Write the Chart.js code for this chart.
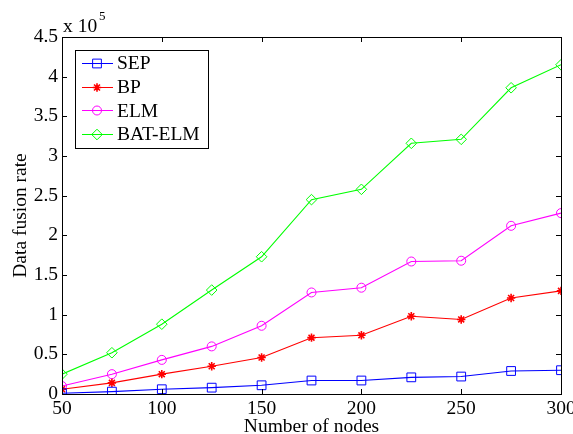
<!DOCTYPE html>
<html>
<head>
<meta charset="utf-8">
<script src="https://cdn.jsdelivr.net/npm/chart.js@4.4.1/dist/chart.umd.min.js"></script>
<style>
  html, body { margin: 0; padding: 0; background: #fff; }
  #wrap { width: 573px; height: 434px; }
</style>
</head>
<body>
<div id="wrap"><canvas id="fusion"></canvas></div>
<script>
// node counts and fusion rates (in units of 1e5)
let nodes = [50, 75, 100, 125, 150, 175, 200, 225, 250, 275, 300]
let sepRate = [0.01, 0.03, 0.06, 0.08, 0.11, 0.17, 0.17, 0.21, 0.22, 0.29, 0.30]
let bpRate = [0.06, 0.14, 0.25, 0.35, 0.46, 0.71, 0.74, 0.98, 0.94, 1.21, 1.30]
let elmRate = [0.10, 0.25, 0.43, 0.60, 0.86, 1.28, 1.34, 1.67, 1.68, 2.12, 2.28]
let batRate = [0.25, 0.52, 0.88, 1.31, 1.73, 2.45, 2.58, 3.16, 3.21, 3.86, 4.15]
let xTicks = [50, 100, 150, 200, 250, 300]
let yTicks = [0, 0.5, 1, 1.5, 2, 2.5, 3, 3.5, 4, 4.5]

const serif = '"Liberation Serif", "Times New Roman", serif'
const fsize = 19.5

const series = (label, vals, color, marker, r) => ({
  label: label,
  data: nodes.map((n, i) => ({ x: n, y: vals[i] })),
  borderColor: color,
  backgroundColor: color,
  borderWidth: 1.1,
  pointStyle: marker,
  pointRadius: r,
  pointBorderWidth: marker == 'star' ? 1.6 : 1,
  pointBackgroundColor: 'rgba(0,0,0,0)',
  pointBorderColor: color,
  tension: 0
})

// matlab-style box, inward ticks, exponent note and legend
const boxPlugin = {
  id: 'box',
  afterDraw(chart) {
    let ctx = chart.ctx
    let a = chart.chartArea
    let xs = chart.scales.x
    let ys = chart.scales.y
    ctx.save()
    ctx.strokeStyle = '#000'
    ctx.lineWidth = 1
    ctx.strokeRect(a.left + 0.5, a.top + 0.5, a.right - a.left, a.bottom - a.top)
    ctx.beginPath()
    xTicks.forEach(t => {
      let px = Math.round(xs.getPixelForValue(t)) + 0.5
      ctx.moveTo(px, a.bottom); ctx.lineTo(px, a.bottom - 5)
      ctx.moveTo(px, a.top); ctx.lineTo(px, a.top + 5)
    })
    yTicks.forEach(t => {
      let py = Math.round(ys.getPixelForValue(t)) + 0.5
      ctx.moveTo(a.left, py); ctx.lineTo(a.left + 5, py)
      ctx.moveTo(a.right, py); ctx.lineTo(a.right - 5, py)
    })
    ctx.stroke()

    // exponent label
    ctx.fillStyle = '#000'
    ctx.font = fsize + 'px ' + serif
    ctx.textBaseline = 'alphabetic'
    ctx.fillText('x 10', a.left + 1, a.top - 5)
    ctx.font = '13px ' + serif
    ctx.fillText('5', a.left + 37, a.top - 17)

    // legend
    let lx = 75, ly = 50, lw = 133, lh = 98
    ctx.fillStyle = '#fff'
    ctx.fillRect(lx, ly, lw, lh)
    ctx.strokeStyle = '#000'
    ctx.strokeRect(lx + 0.5, ly + 0.5, lw, lh)
    chart.data.datasets.forEach((ds, i) => {
      let cy = ly + 13 + i * 23.7
      ctx.strokeStyle = ds.borderColor
      ctx.fillStyle = 'rgba(0,0,0,0)'
      ctx.lineWidth = 1
      ctx.beginPath()
      ctx.moveTo(lx + 7, Math.round(cy) + 0.5); ctx.lineTo(lx + 38, Math.round(cy) + 0.5)
      ctx.stroke()
      ctx.lineWidth = ds.pointBorderWidth
      Chart.helpers.drawPoint(ctx, {
        pointStyle: ds.pointStyle, radius: ds.pointRadius, borderWidth: ds.pointBorderWidth, rotation: 0
      }, lx + 22, Math.round(cy) + 0.5)
      ctx.fillStyle = '#000'
      ctx.font = fsize + 'px ' + serif
      ctx.textBaseline = 'middle'
      ctx.fillText(ds.label, lx + 42, cy + 1)
    })
    ctx.restore()
  }
}

new Chart('fusion', {
  type: 'line',
  data: {
    datasets: [
      series('SEP', sepRate, '#0000ff', 'rect', 6.2),
      series('BP', bpRate, '#ff0000', 'star', 4.2),
      series('ELM', elmRate, '#ff00ff', 'circle', 4.5),
      series('BAT-ELM', batRate, '#00ff00', 'rectRot', 5.3)
    ]
  },
  options: {
    responsive: true,
    maintainAspectRatio: false,
    animation: false,
    layout: { padding: { top: 37, right: 12, left: 0, bottom: 0 } },
    plugins: { legend: { display: false }, tooltip: { enabled: false } },
    scales: {
      x: {
        type: 'linear',
        min: 50,
        max: 300,
        afterBuildTicks: s => { s.ticks = xTicks.map(v => ({ value: v })) },
        afterFit: s => { s.height = 40; s.paddingRight = 0; s.paddingLeft = 0 },
        grid: { display: false, drawTicks: false },
        border: { display: false },
        ticks: { color: '#000', font: { family: serif, size: fsize }, padding: 3, maxRotation: 0, callback: v => String(v) },
        title: { display: true, text: 'Number of nodes', color: '#000', font: { family: serif, size: fsize }, padding: { top: 0, bottom: -5 } }
      },
      y: {
        min: 0,
        max: 4.5,
        afterBuildTicks: s => { s.ticks = yTicks.map(v => ({ value: v })) },
        afterFit: s => { s.width = 62; s.paddingTop = 0; s.paddingBottom = 0 },
        grid: { display: false, drawTicks: false },
        border: { display: false },
        ticks: { color: '#000', font: { family: serif, size: fsize }, padding: 4, callback: v => String(v) },
        title: { display: true, text: 'Data fusion rate', color: '#000', font: { family: serif, size: fsize }, padding: { top: 9, bottom: 0 } }
      }
    }
  },
  plugins: [boxPlugin]
})
</script>
</body>
</html>
